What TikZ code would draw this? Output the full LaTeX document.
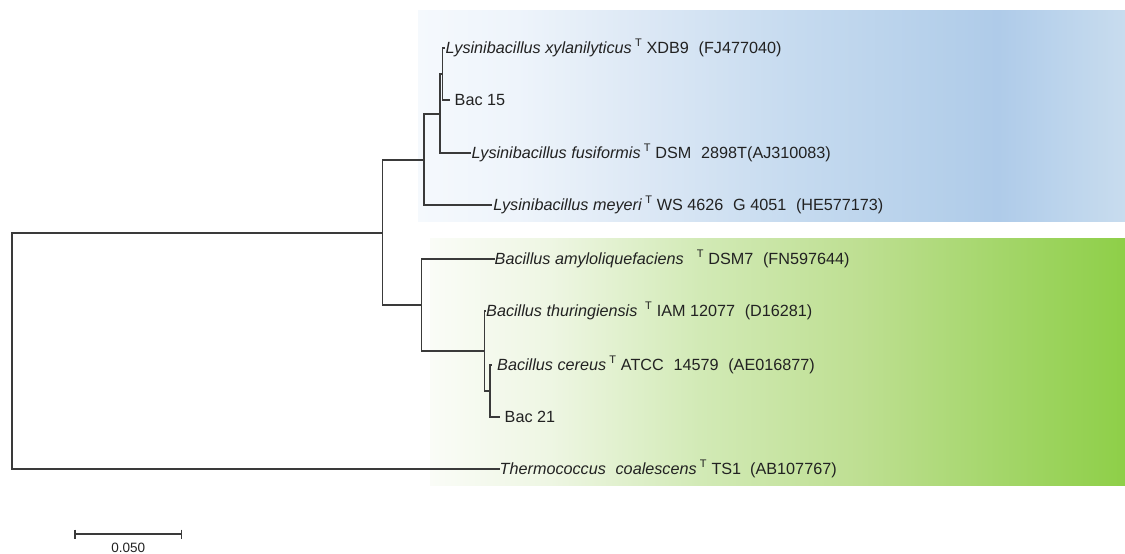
\documentclass[tikz,border=0pt]{standalone}
\usepackage{fontspec}
\setmainfont{Liberation Sans}
\definecolor{b0}{HTML}{F5F9FD}
\definecolor{b1}{HTML}{EEF4FB}
\definecolor{b2}{HTML}{DCE8F5}
\definecolor{b3}{HTML}{C5DAEF}
\definecolor{b4}{HTML}{B4CFEA}
\definecolor{b5}{HTML}{AFCBE9}
\definecolor{b6}{HTML}{BAD3EC}
\definecolor{b7}{HTML}{C8DCEE}
\definecolor{g0}{HTML}{FAFCF7}
\definecolor{g1}{HTML}{EEF6E3}
\definecolor{g2}{HTML}{D2EAB6}
\definecolor{g3}{HTML}{BEDF92}
\definecolor{g4}{HTML}{A4D66A}
\definecolor{g5}{HTML}{8ECF48}
\definecolor{treeline}{HTML}{3A3A3A}
\definecolor{labeltext}{HTML}{222222}
\pgfdeclarehorizontalshading{blueshade}{100bp}{color(0bp)=(b0); color(25bp)=(b0); color(32bp)=(b1); color(41bp)=(b2); color(52bp)=(b3); color(62.6bp)=(b4); color(66bp)=(b5); color(70bp)=(b6); color(75bp)=(b7); color(100bp)=(b7)}
\pgfdeclarehorizontalshading{greenshade}{100bp}{color(0bp)=(g0); color(25bp)=(g0); color(33.6bp)=(g1); color(44.4bp)=(g2); color(55.9bp)=(g3); color(66bp)=(g4); color(75bp)=(g5); color(100bp)=(g5)}
\newcommand\dblsp{\hspace{0.6em}}
\newcommand\typeT{\hspace{0.2em}\raisebox{0.48em}{\fontsize{11}{11}\selectfont T}\hspace{0.3em}}
\tikzset{
  branch/.style={draw=treeline, line width=1.2pt, line cap=rect},
  leaflabel/.style={anchor=base west, inner xsep=1.5pt, inner ysep=0pt, yshift=-5.8pt,
    font=\fontsize{16.2}{18}\selectfont, text=labeltext},
  scalelabel/.style={anchor=base, inner sep=0pt, text depth=0pt, font=\fontsize{13.5}{15}\selectfont, text=labeltext}
}
\begin{document}
\begin{tikzpicture}[x=1pt,y=-1pt]
\useasboundingbox (0,0) rectangle (1125,554);
\fill[white] (0,0) rectangle (1125,554);
% clade backgrounds
\shade[shading=blueshade] (418,10.6) rectangle (1125,221);
\shade[shading=greenshade] (430,238.6) rectangle (1125,485);
% internal nodes
\coordinate (root) at (12,351);
\coordinate (nA) at (382.7,233);
\coordinate (nL) at (424,160);
\coordinate (nL2) at (440,114);
\coordinate (nL3) at (442.7,74);
\coordinate (nB) at (421.7,305);
\coordinate (nB2) at (484.3,351);
\coordinate (nB3) at (490,391);
% leaves
\coordinate (xyl) at (444,48);
\coordinate (bac15) at (449,100);
\coordinate (fus) at (470,153);
\coordinate (mey) at (491.7,205);
\coordinate (amy) at (494,259);
\coordinate (thu) at (485.5,311);
\coordinate (cer) at (491.5,365);
\coordinate (b21) at (499,417);
\coordinate (the) at (499,469);
% branches
\draw[branch] (root) |- (nA);
\draw[branch] (root) |- (the);
\draw[branch] (nA) |- (nL);
\draw[branch] (nA) |- (nB);
\draw[branch] (nL) |- (nL2);
\draw[branch] (nL) |- (mey);
\draw[branch] (nL2) |- (nL3);
\draw[branch] (nL2) |- (fus);
\draw[branch] (nL3) |- (xyl);
\draw[branch] (nL3) |- (bac15);
\draw[branch] (nB) |- (amy);
\draw[branch] (nB) |- (nB2);
\draw[branch] (nB2) |- (thu);
\draw[branch] (nB2) |- (nB3);
\draw[branch] (nB3) |- (cer);
\draw[branch] (nB3) |- (b21);
% labels
\node[leaflabel] (Lxyl) at (xyl) {\textit{Lysinibacillus xylanilyticus}\typeT XDB9\dblsp(FJ477040)};
\node[leaflabel, xshift=4pt] (Lbac15) at (bac15) {Bac 15};
\node[leaflabel] (Lfus) at (fus) {\textit{Lysinibacillus fusiformis}\typeT DSM\dblsp 2898T(AJ310083)};
\node[leaflabel] (Lmey) at (mey) {\textit{Lysinibacillus meyeri}\typeT WS 4626\dblsp G 4051\dblsp(HE577173)};
\node[leaflabel, inner xsep=0.5pt] (Lamy) at (amy) {\textit{Bacillus amyloliquefaciens}\dblsp\typeT DSM7\dblsp(FN597644)};
\node[leaflabel, inner xsep=0.5pt] (Lthu) at (thu) {\textit{Bacillus thuringiensis}\ \typeT IAM 12077\dblsp(D16281)};
\node[leaflabel, xshift=4pt] (Lcer) at (cer) {\textit{Bacillus cereus}\typeT ATCC\dblsp 14579\dblsp(AE016877)};
\node[leaflabel, xshift=4pt] (Lb21) at (b21) {Bac 21};
\node[leaflabel, inner xsep=0.5pt] (Lthe) at (the) {\textit{Thermococcus\dblsp coalescens}\typeT TS1\ \ (AB107767)};
% scale bar
\coordinate (sb1) at (75,534);
\coordinate (sb2) at (181.7,534);
\draw[branch, line cap=butt] (sb1) -- (sb2);
\draw[branch, line cap=butt] ([yshift=4.5pt]sb1) -- ([yshift=-4.5pt]sb1);
\draw[branch, line cap=butt] ([yshift=4.5pt]sb2) -- ([yshift=-4.5pt]sb2);
\node[scalelabel] (sblabel) at (128.3,552) {0.050};
\end{tikzpicture}
\end{document}
